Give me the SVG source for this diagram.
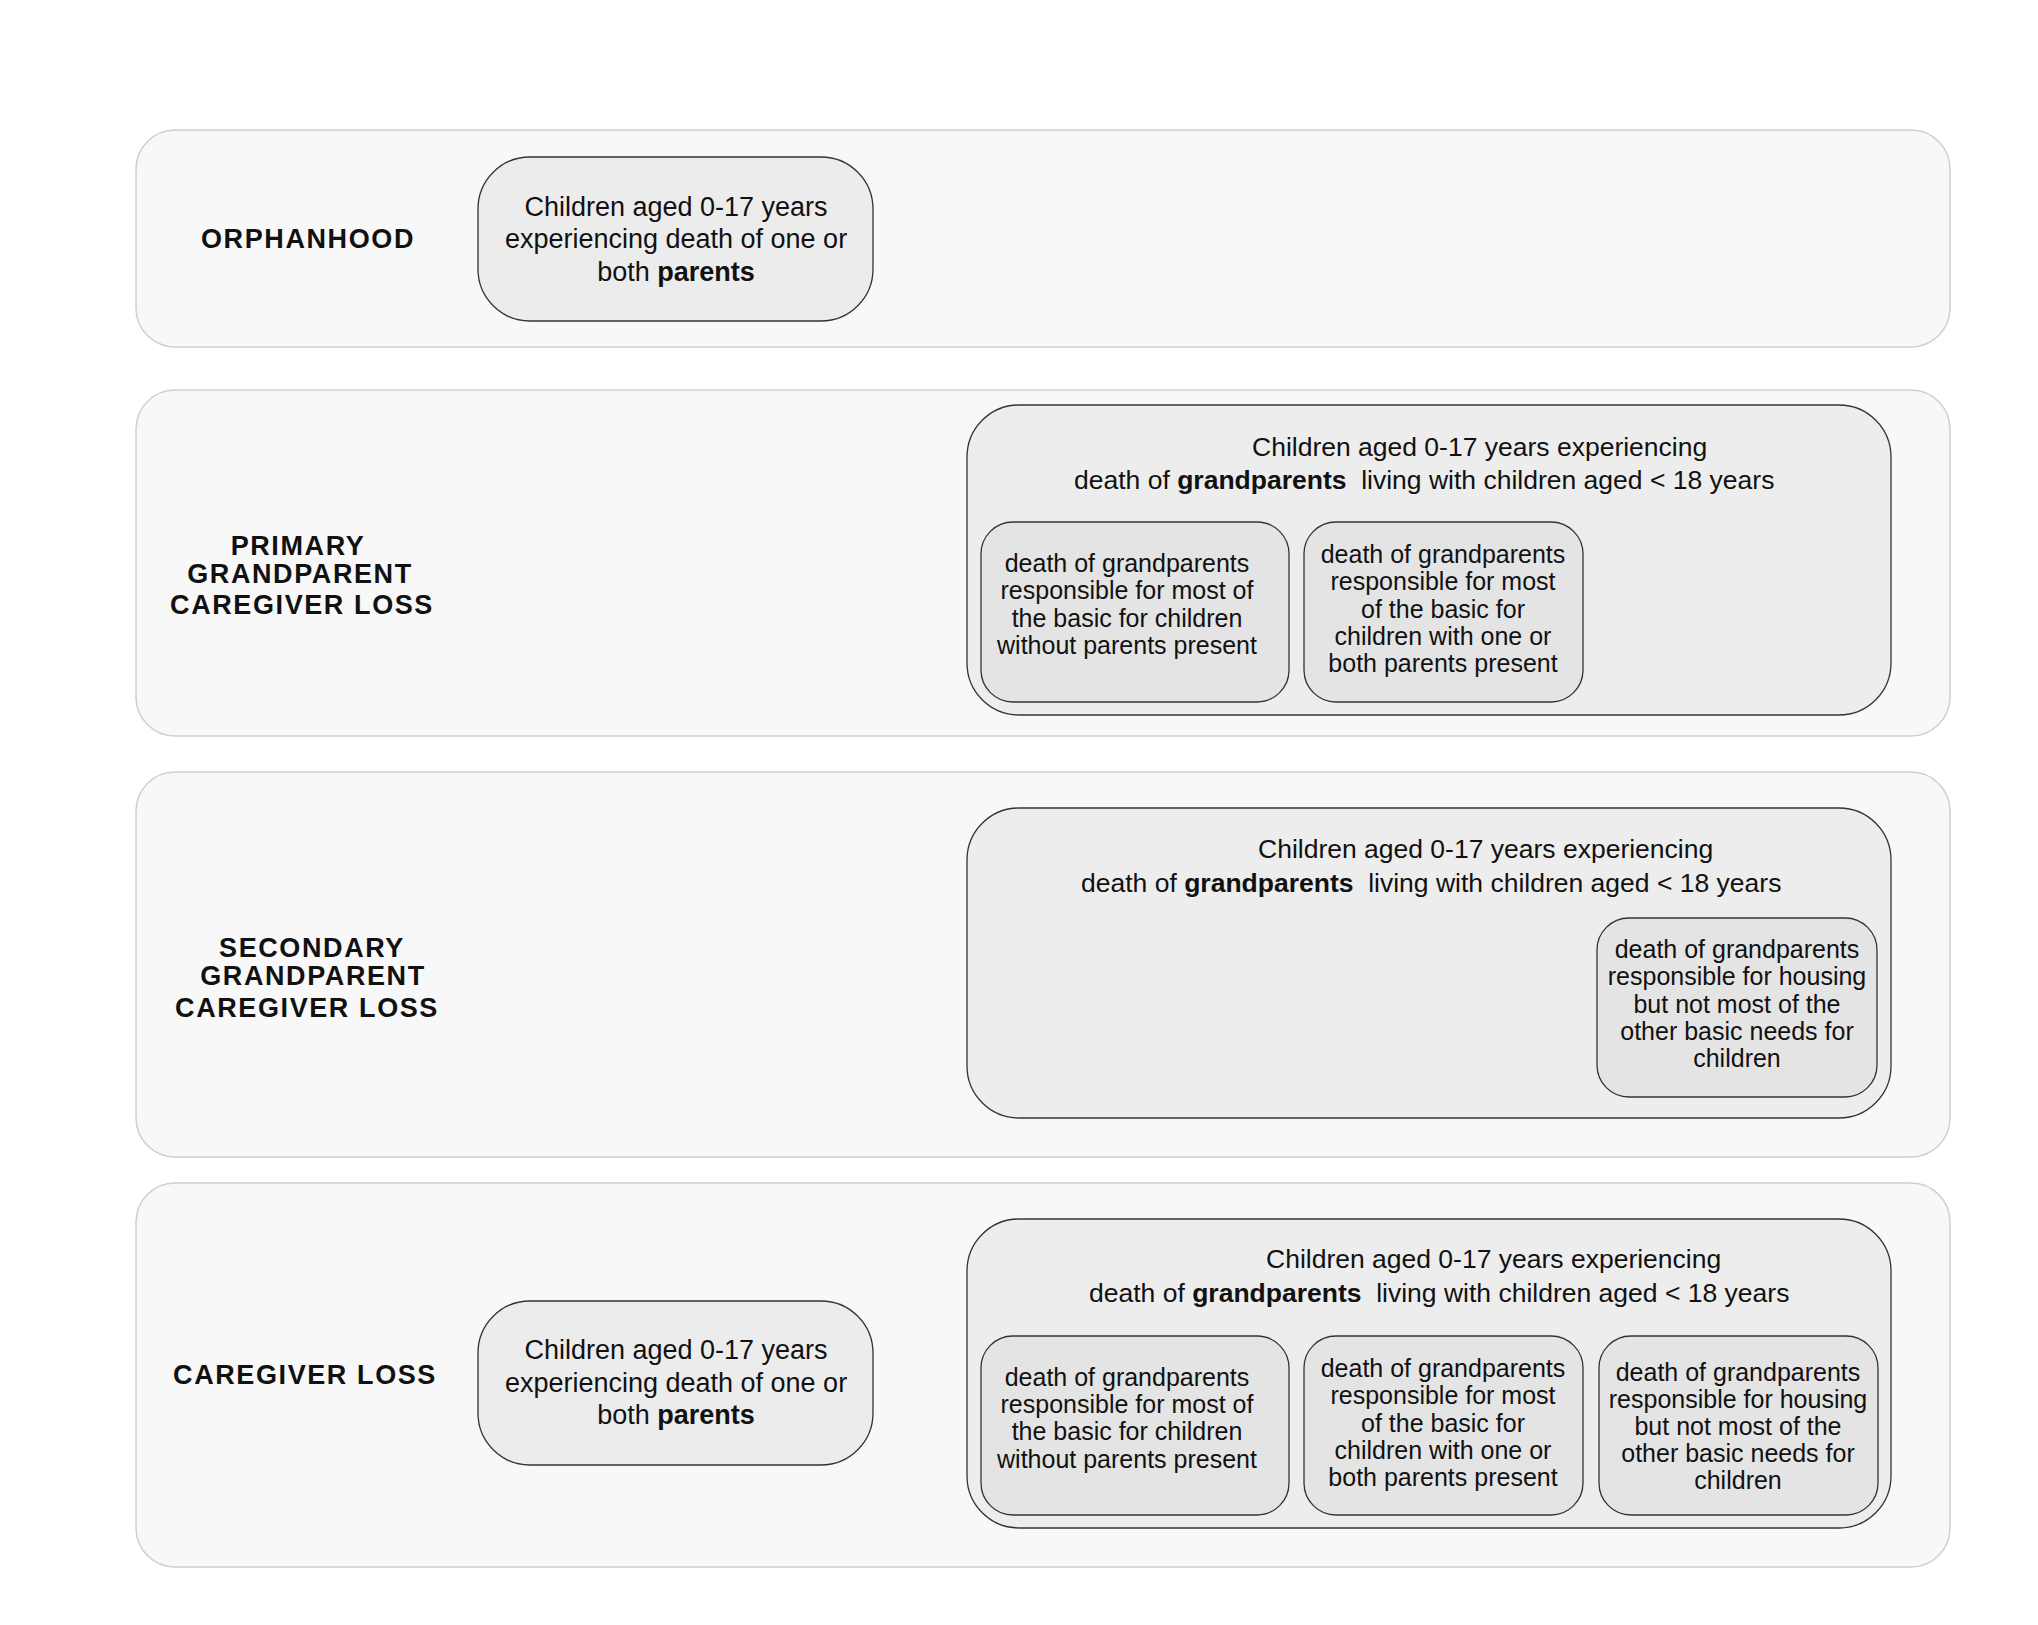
<svg xmlns="http://www.w3.org/2000/svg" width="2038" height="1625" viewBox="0 0 2038 1625">
<style>
.band{fill:#f8f8f8;stroke:#cfcfcf;stroke-width:1.5}
.big{fill:#ededed;stroke:#333;stroke-width:1.3}
.small{fill:#e4e4e4;stroke:#333;stroke-width:1.3}
.node{fill:#ececec;stroke:#333;stroke-width:1.3}
text{font-family:"Liberation Sans",Arial,Helvetica,sans-serif;fill:#111}
.lbl{font-size:27px;font-weight:bold;text-anchor:middle;letter-spacing:1.6px}
.t27{font-size:26.5px}
.c27{font-size:27px;text-anchor:middle}
.c24{font-size:25px;text-anchor:middle}
.b{font-weight:bold}
</style>
<rect width="2038" height="1625" fill="#ffffff"/>
<g id="connectors"/>

<g id="band-orphanhood">
<rect class="band" x="136" y="130" width="1814" height="217" rx="39"/>
<text class="lbl" x="308" y="248">ORPHANHOOD</text>
</g>
<g id="node-orphan-parents">
<rect class="node" x="478" y="157" width="395" height="164" rx="52"/>
<text class="c27" x="676" y="216">Children aged 0-17 years</text>
<text class="c27" x="676" y="248">experiencing death of one or</text>
<text class="c27" x="676" y="281">both <tspan class="b">parents</tspan></text>
</g>

<g id="band-primary">
<rect class="band" x="136" y="390" width="1814" height="346" rx="39"/>
<text class="lbl" x="298" y="555">PRIMARY</text>
<text class="lbl" x="300" y="583">GRANDPARENT</text>
<text class="lbl" x="302" y="614">CAREGIVER LOSS</text>
</g>
<g id="node-primary-grandparents">
<rect class="big" x="967" y="405" width="924" height="310" rx="52"/>
<text class="t27" x="1252" y="456">Children aged 0-17 years experiencing</text>
<text class="t27" x="1074" y="489">death of <tspan class="b">grandparents</tspan>&#160; living with children aged &lt; 18 years</text>
</g>
<g id="node-primary-a">
<rect class="small" x="981" y="522" width="308" height="180" rx="32"/>
<text class="c24" x="1127" y="572">death of grandparents</text>
<text class="c24" x="1127" y="599">responsible for most of</text>
<text class="c24" x="1127" y="627">the basic for children</text>
<text class="c24" x="1127" y="654">without parents present</text>
</g>
<g id="node-primary-b">
<rect class="small" x="1304" y="522" width="279" height="180" rx="32"/>
<text class="c24" x="1443" y="563">death of grandparents</text>
<text class="c24" x="1443" y="590">responsible for most</text>
<text class="c24" x="1443" y="618">of the basic for</text>
<text class="c24" x="1443" y="645">children with one or</text>
<text class="c24" x="1443" y="672">both parents present</text>
</g>

<g id="band-secondary">
<rect class="band" x="136" y="772" width="1814" height="385" rx="39"/>
<text class="lbl" x="312" y="957">SECONDARY</text>
<text class="lbl" x="313" y="985">GRANDPARENT</text>
<text class="lbl" x="307" y="1017">CAREGIVER LOSS</text>
</g>
<g id="node-secondary-grandparents">
<rect class="big" x="967" y="808" width="924" height="310" rx="52"/>
<text class="t27" x="1258" y="858">Children aged 0-17 years experiencing</text>
<text class="t27" x="1081" y="892">death of <tspan class="b">grandparents</tspan>&#160; living with children aged &lt; 18 years</text>
</g>
<g id="node-secondary-c">
<rect class="small" x="1597" y="918" width="280" height="179" rx="32"/>
<text class="c24" x="1737" y="958">death of grandparents</text>
<text class="c24" x="1737" y="985">responsible for housing</text>
<text class="c24" x="1737" y="1013">but not most of the</text>
<text class="c24" x="1737" y="1040">other basic needs for</text>
<text class="c24" x="1737" y="1067">children</text>
</g>

<g id="band-caregiver">
<rect class="band" x="136" y="1183" width="1814" height="384" rx="39"/>
<text class="lbl" x="305" y="1384">CAREGIVER LOSS</text>
</g>
<g id="node-caregiver-parents">
<rect class="node" x="478" y="1301" width="395" height="164" rx="52"/>
<text class="c27" x="676" y="1359">Children aged 0-17 years</text>
<text class="c27" x="676" y="1392">experiencing death of one or</text>
<text class="c27" x="676" y="1424">both <tspan class="b">parents</tspan></text>
</g>
<g id="node-caregiver-grandparents">
<rect class="big" x="967" y="1219" width="924" height="309" rx="52"/>
<text class="t27" x="1266" y="1268">Children aged 0-17 years experiencing</text>
<text class="t27" x="1089" y="1302">death of <tspan class="b">grandparents</tspan>&#160; living with children aged &lt; 18 years</text>
</g>
<g id="node-caregiver-a">
<rect class="small" x="981" y="1336" width="308" height="179" rx="32"/>
<text class="c24" x="1127" y="1386">death of grandparents</text>
<text class="c24" x="1127" y="1413">responsible for most of</text>
<text class="c24" x="1127" y="1440">the basic for children</text>
<text class="c24" x="1127" y="1468">without parents present</text>
</g>
<g id="node-caregiver-b">
<rect class="small" x="1304" y="1336" width="279" height="179" rx="32"/>
<text class="c24" x="1443" y="1377">death of grandparents</text>
<text class="c24" x="1443" y="1404">responsible for most</text>
<text class="c24" x="1443" y="1432">of the basic for</text>
<text class="c24" x="1443" y="1459">children with one or</text>
<text class="c24" x="1443" y="1486">both parents present</text>
</g>
<g id="node-caregiver-c">
<rect class="small" x="1599" y="1336" width="279" height="179" rx="32"/>
<text class="c24" x="1738" y="1381">death of grandparents</text>
<text class="c24" x="1738" y="1408">responsible for housing</text>
<text class="c24" x="1738" y="1435">but not most of the</text>
<text class="c24" x="1738" y="1462">other basic needs for</text>
<text class="c24" x="1738" y="1489">children</text>
</g>
</svg>
